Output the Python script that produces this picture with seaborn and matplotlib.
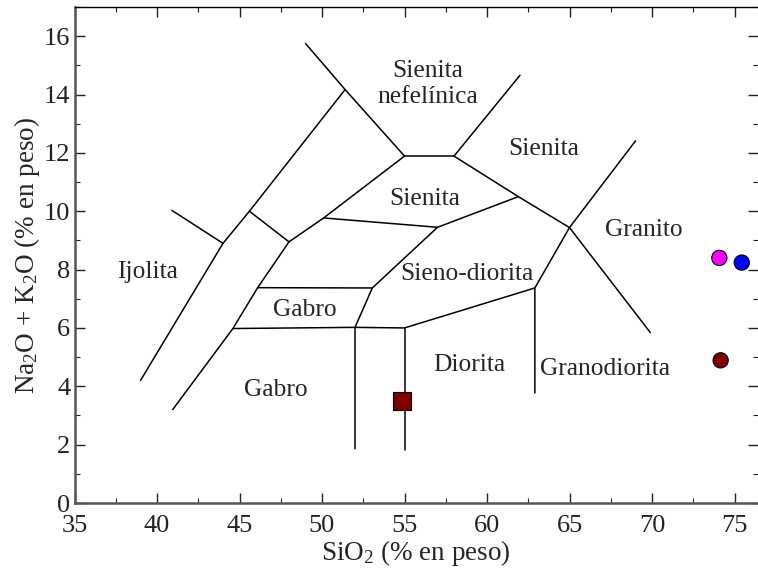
import numpy as np
import pandas as pd
import matplotlib
matplotlib.use('Agg')
import matplotlib.pyplot as plt
from matplotlib.ticker import MultipleLocator
import seaborn as sns

# Boundary lines of the plutonic TAS diagram (SiO2, Na2O+K2O)
seg_x = [
    [39.0, 44.0, 45.6, 51.4],          # ijolita boundary
    [40.9, 44.0],
    [45.6, 48.0],
    [49.0, 51.4, 55.0],
    [55.0, 58.0],
    [58.0, 62.0],
    [58.0, 61.9, 65.0, 69.9],
    [69.0, 65.0, 62.9, 62.9],
    [61.9, 57.0, 53.05, 52.0, 52.0],
    [57.0, 50.1],
    [48.0, 50.1, 55.0],
    [48.0, 46.1, 44.6, 40.95],
    [46.1, 53.05],
    [44.6, 52.0, 55.0],
    [55.0, 55.0],
    [55.0, 62.9],
]
seg_y = [
    [4.2, 8.9, 10.0, 14.17],
    [10.03, 8.9],
    [10.0, 8.95],
    [15.75, 14.17, 11.89],
    [11.89, 11.89],
    [11.89, 14.66],
    [11.89, 10.5, 9.44, 5.84],
    [12.41, 9.44, 7.37, 3.77],
    [10.5, 9.45, 7.37, 6.02, 1.86],
    [9.45, 9.77],
    [8.95, 9.77, 11.89],
    [8.95, 7.38, 5.98, 3.2],
    [7.38, 7.37],
    [5.98, 6.02, 6.0],
    [6.0, 1.8],
    [6.0, 7.37],
]

# Field names and positions
field_names = ['Sienita\nnefelínica', 'Sienita', 'Sienita', 'Granito', 'Ijolita',
               'Sieno-diorita', 'Gabro', 'Gabro', 'Diorita', 'Granodiorita']
field_x = [56.43, 63.46, 56.24, 69.5, 39.45, 58.8, 48.94, 47.2, 58.95, 67.15]
field_y = [14.35, 12.15, 10.43, 9.35, 7.92, 7.84, 6.63, 3.86, 4.72, 4.6]

# Samples
sample_sio2 = [74.08, 75.44, 74.16, 54.82]
sample_alk = [8.4, 8.24, 4.89, 3.49]
sample_id = ['a', 'b', 'c', 'd']
sample_colors = ['#ff00ff', '#0000ff', '#800000', '#800000']

sns.set_style('ticks')
plt.rcParams['font.family'] = ['Liberation Serif', 'DejaVu Serif']
plt.rcParams['mathtext.fontset'] = 'custom'
plt.rcParams['mathtext.rm'] = 'Liberation Serif'
plt.rcParams['mathtext.it'] = 'Liberation Serif:italic'

rows = []
for i, (xs, ys) in enumerate(zip(seg_x, seg_y)):
    for j, (a, b) in enumerate(zip(xs, ys)):
        rows.append({'seg': i, 'order': j, 'SiO2': a, 'alk': b})
lines_df = pd.DataFrame(rows)

samples_df = pd.DataFrame({'SiO2': sample_sio2, 'alk': sample_alk, 'id': sample_id})

fig = plt.figure(figsize=(7.58, 5.73), dpi=100)
ax = fig.add_axes([74.5 / 758, 1 - 503 / 573, (758 - 74.5) / 758, (503 - 7) / 573])

sns.lineplot(data=lines_df, x='SiO2', y='alk', units='seg', estimator=None,
             sort=False, color='black', linewidth=1.1, ax=ax)

sns.scatterplot(data=samples_df[samples_df['id'] != 'd'], x='SiO2', y='alk', hue='id',
                palette=sample_colors[:3], marker='o', s=120, edgecolor='black',
                linewidth=0.8, legend=False, ax=ax, zorder=5)
sns.scatterplot(data=samples_df[samples_df['id'] == 'd'], x='SiO2', y='alk',
                color=sample_colors[3], marker='s', s=155, edgecolor='black',
                linewidth=0.8, legend=False, ax=ax, zorder=5)

for name, fx, fy in zip(field_names, field_x, field_y):
    ax.text(fx, fy, name, ha='center', va='center', fontsize=18.4,
            linespacing=1.25)

ax.set_xlim(35, 35 + 683.5 / 16.5)
ax.set_ylim(0, 17)
ax.xaxis.set_major_locator(MultipleLocator(5))
ax.xaxis.set_minor_locator(MultipleLocator(2.5))
ax.yaxis.set_major_locator(MultipleLocator(2))
ax.yaxis.set_minor_locator(MultipleLocator(1))
ax.tick_params(which='both', direction='in', top=True, right=True,
               labelsize=19, colors='#222222')
ax.tick_params(axis='x', pad=9)
ax.tick_params(axis='y', pad=3)
ax.tick_params(which='major', length=7, width=1)
ax.tick_params(which='minor', length=3.5, width=0.8)
for side in ['left', 'bottom']:
    ax.spines[side].set_color('#555555')
    ax.spines[side].set_linewidth(1.8)
ax.spines['top'].set_color('black')
ax.spines['top'].set_linewidth(1.0)
ax.spines['right'].set_visible(False)

ax.set_xlabel(r'SiO$_\mathrm{2}$ (% en peso)', fontsize=19.5, labelpad=0)
ax.set_ylabel(r'Na$_\mathrm{2}$O + K$_\mathrm{2}$O (% en peso)', fontsize=19.5, labelpad=1)

fig.savefig('out.png', dpi=100)
